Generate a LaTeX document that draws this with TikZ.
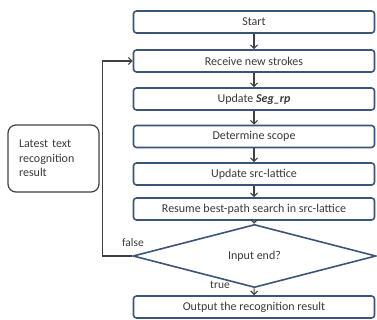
\documentclass[tikz,border=0pt]{standalone}
\usepackage{fontspec}
\setmainfont{Carlito}
\usetikzlibrary{shapes.geometric,arrows.meta}

\definecolor{boxblue}{HTML}{3B5479}
\definecolor{linegray}{HTML}{404040}
\definecolor{txtgray}{HTML}{3A3A3A}

\tikzset{
  stepbox/.style={draw=boxblue, line width=1.6pt, fill=white, rounded corners=3pt,
    minimum width=241pt, minimum height=22pt, inner sep=0pt, text=txtgray,
    font=\fontsize{12}{14}\selectfont},
  decbox/.style={draw=boxblue, line width=1.6pt, fill=white, shape=diamond,
    minimum width=243pt, minimum height=38pt, inner sep=0pt, text=txtgray,
    font=\fontsize{12}{14}\selectfont},
  notebox/.style={draw=linegray, line width=1.2pt, rounded corners=8pt,
    minimum height=67pt, text width=69pt, inner xsep=11pt, align=left,
    text=txtgray, font=\fontsize{12}{14.5}\selectfont},
  flow/.style={->, draw=linegray, line width=1.1pt},
  lbl/.style={text=txtgray, font=\fontsize{11.5}{13}\selectfont, inner sep=0pt}
}

\begin{document}
\begin{tikzpicture}[x=1pt, y=-1pt, >={Straight Barb[length=3.5pt,width=7pt]}]
  \useasboundingbox (0,0) rectangle (377,320);

  % main column
  \node[stepbox] (start)  at (254,22)    {Start};
  \node[stepbox] (recv)   at (254,61)    {Receive new strokes};
  \node[stepbox] (seg)    at (254,99)    {Update \textbf{\textit{Seg\_rp}}};
  \node[stepbox] (scope)  at (254,136.5) {Determine scope};
  \node[stepbox] (src)    at (254,174)   {Update src-lattice};
  \node[stepbox] (resume) at (254,209)   {Resume best-path search in src-lattice};
  \node[decbox]  (dec)    at (254.5,256) {Input end?};
  \node[stepbox] (out)    at (254,307)   {Output the recognition result};

  % side note
  \node[notebox] (latest) at (53.5,158.5) {Latest text\\recognition\\result};

  \draw[flow] (start)  -- (recv);
  \draw[flow] (recv)   -- (seg);
  \draw[flow] (seg)    -- (scope);
  \draw[flow] (scope)  -- (src);
  \draw[flow] (src)    -- (resume);
  \draw[flow] (resume) -- (dec);
  \draw[flow] (dec)    -- (out);

  % loop back
  \draw[flow] (dec.west) -- ++(-30,0) |- (recv.west);
  \node[lbl] (false) at (133,243) {false};
  \node[lbl] (true)  at (220,285) {true};
\end{tikzpicture}
\end{document}
